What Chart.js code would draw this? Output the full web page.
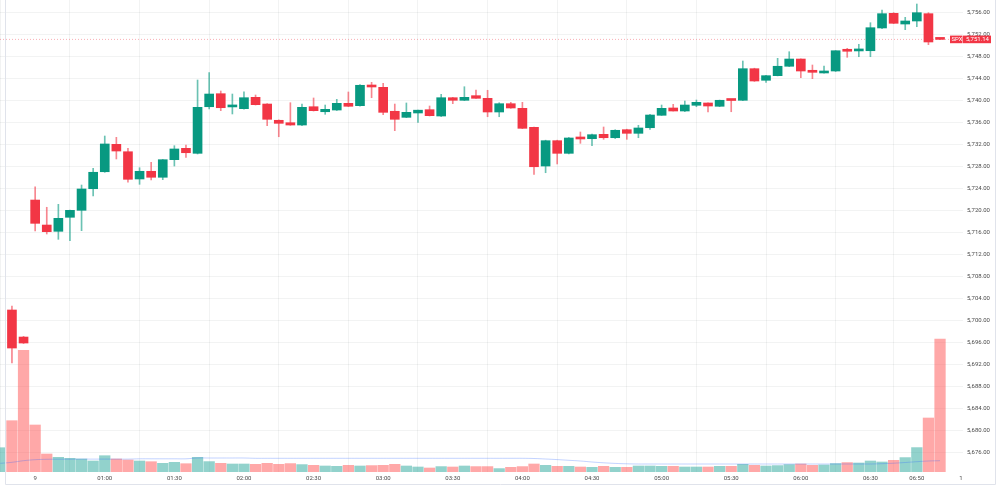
<!DOCTYPE html>
<html>
<head>
<meta charset="utf-8">
<script src="https://cdn.jsdelivr.net/npm/chart.js@4.4.1/dist/chart.umd.min.js"></script>
<style>
  html, body { margin: 0; padding: 0; background: #fff; }
  #chart { display: block; }
</style>
</head>
<body>
<canvas id="chart" width="1000" height="488"></canvas>
<script>
// SPX 5 min bars. first slot is the bar cut off at the left edge (only its volume shows)
var opens  = [null,
  5701.90, 5696.98, 5721.91, 5717.36, 5716.22, 5718.77, 5720.04, 5723.97, 5727.06, 5732.05,
  5730.70, 5725.74, 5727.14, 5726.05, 5729.25, 5731.32, 5730.41, 5738.89, 5741.26, 5738.85,
  5738.53, 5740.60, 5739.38, 5736.42, 5735.98, 5735.56, 5738.89, 5737.98, 5738.29, 5739.51,
  5739.08, 5742.72, 5742.42, 5738.06, 5736.96, 5737.75, 5738.35, 5737.20, 5740.53, 5740.06,
  5740.90, 5740.42, 5737.93, 5739.44, 5738.60, 5735.14, 5728.10, 5732.71, 5730.41, 5733.12,
  5733.07, 5733.87, 5733.25, 5734.71, 5734.05, 5735.07, 5737.33, 5738.66, 5738.11, 5739.15,
  5739.57, 5738.97, 5740.10, 5740.06, 5745.81, 5743.70, 5744.54, 5746.25, 5747.57, 5745.52,
  5745.03, 5745.39, 5749.06, 5749.04, 5749.08, 5753.22, 5755.89, 5753.94, 5754.49, 5755.82,
  5751.30];
var highs  = [null,
  5702.62, 5697.10, 5724.33, 5720.59, 5721.13, 5720.10, 5724.64, 5727.68, 5733.56, 5733.32,
  5731.32, 5727.79, 5728.78, 5729.30, 5731.80, 5731.92, 5743.75, 5745.08, 5741.75, 5741.20,
  5741.62, 5741.02, 5739.45, 5736.50, 5739.62, 5739.38, 5740.48, 5739.20, 5740.24, 5741.57,
  5742.90, 5743.33, 5743.15, 5739.38, 5739.57, 5738.30, 5739.02, 5741.15, 5740.60, 5742.53,
  5741.93, 5741.88, 5739.62, 5739.69, 5739.69, 5735.20, 5732.80, 5732.80, 5733.30, 5734.29,
  5733.90, 5735.20, 5734.70, 5734.80, 5735.51, 5737.50, 5739.20, 5739.33, 5739.93, 5740.11,
  5739.60, 5740.10, 5740.15, 5747.21, 5745.90, 5744.60, 5747.70, 5748.90, 5747.60, 5746.48,
  5746.30, 5749.10, 5749.52, 5750.25, 5754.18, 5756.49, 5756.00, 5755.16, 5757.58, 5756.00,
  5751.35];
var lows   = [null,
  5692.25, 5695.80, 5716.27, 5715.73, 5714.76, 5714.51, 5716.33, 5722.64, 5726.95, 5729.38,
  5725.14, 5724.77, 5725.55, 5725.61, 5728.10, 5729.68, 5730.29, 5738.48, 5738.17, 5737.57,
  5738.45, 5739.20, 5735.44, 5733.43, 5735.50, 5735.44, 5738.10, 5737.51, 5738.20, 5738.90,
  5739.00, 5740.53, 5737.44, 5734.53, 5736.90, 5736.05, 5737.20, 5737.10, 5739.44, 5740.00,
  5740.40, 5737.07, 5737.07, 5738.60, 5734.90, 5726.59, 5726.88, 5728.47, 5730.30, 5732.23,
  5731.80, 5732.96, 5733.10, 5732.96, 5733.25, 5734.78, 5737.30, 5738.10, 5738.00, 5738.89,
  5737.93, 5738.90, 5737.98, 5740.00, 5743.50, 5743.33, 5744.50, 5746.20, 5744.17, 5743.99,
  5745.00, 5745.30, 5747.88, 5747.99, 5747.99, 5753.10, 5754.00, 5752.91, 5753.45, 5750.18,
  5751.10];
var closes = [null,
  5694.98, 5695.89, 5717.67, 5716.15, 5718.58, 5720.04, 5723.92, 5726.96, 5732.11, 5730.83,
  5725.68, 5727.14, 5726.05, 5729.25, 5731.20, 5730.52, 5738.78, 5741.20, 5738.71, 5738.95,
  5740.53, 5739.26, 5736.60, 5735.87, 5735.56, 5738.78, 5738.17, 5738.42, 5739.51, 5738.97,
  5742.79, 5742.48, 5737.87, 5736.60, 5737.87, 5738.26, 5737.26, 5740.53, 5740.06, 5740.60,
  5740.42, 5737.93, 5739.44, 5738.66, 5734.96, 5727.97, 5732.71, 5730.41, 5733.20, 5733.02,
  5733.80, 5733.25, 5734.60, 5734.05, 5735.02, 5737.38, 5738.60, 5738.11, 5739.20, 5739.69,
  5739.02, 5740.06, 5740.02, 5745.81, 5743.57, 5744.54, 5746.25, 5747.57, 5745.39, 5745.15,
  5745.34, 5749.08, 5748.98, 5749.12, 5753.27, 5755.82, 5754.07, 5754.49, 5756.00, 5750.67,
  5751.14];
// volume, in tens of arbitrary units
var volume = [243,
  513, 1217, 470, 180, 147, 137, 130, 110, 163, 130,
  120, 110, 103, 87, 97, 83, 147, 104, 87, 80,
  80, 77, 87, 77, 84, 74, 67, 60, 57, 67,
  60, 64, 67, 77, 60, 50, 40, 54, 50, 60,
  54, 54, 34, 47, 54, 80, 67, 57, 57, 50,
  47, 57, 47, 47, 60, 60, 57, 57, 50, 50,
  50, 57, 57, 77, 67, 60, 64, 74, 80, 67,
  70, 84, 94, 90, 110, 100, 117, 144, 244, 540,
  1330];
var volumeMa = [87,
  97, 113, 123, 127, 128, 128, 129, 129, 129, 129,
  129, 132, 132, 132, 132, 132, 140, 140, 140, 140,
  140, 137, 137, 137, 137, 137, 137, 137, 137, 137,
  137, 137, 137, 137, 137, 137, 137, 137, 137, 137,
  137, 137, 137, 137, 137, 135, 130, 124, 117, 110,
  100, 92, 86, 82, 80, 80, 80, 80, 80, 80,
  80, 80, 80, 80, 80, 80, 80, 80, 80, 80,
  80, 80, 80, 80, 80, 83, 88, 95, 103, 110,
  113];

var priceTicks = [5676, 5680, 5684, 5688, 5692, 5696, 5700, 5704, 5708, 5712, 5716,
  5720, 5724, 5728, 5732, 5736, 5740, 5744, 5748, 5752, 5756];
var timeTickPos  = [2, 8, 14, 20, 26, 32, 38, 44, 50, 56, 62, 68, 74, 78, 81.8];
var timeTickText = ['9', '01:00', '01:30', '02:00', '02:30', '03:00', '03:30', '04:00',
  '04:30', '05:00', '05:30', '06:00', '06:30', '06:50', '1'];
var symbol = 'SPX';

var UP = '#089981', DOWN = '#f23645';
var UP_WICK = 'rgba(8,153,129,0.6)', DOWN_WICK = 'rgba(242,54,69,0.6)';
var UP_VOL = 'rgba(38,166,154,0.5)', DOWN_VOL = 'rgba(255,82,82,0.5)';
var GRID = 'rgba(42,46,57,0.06)';
var FONT = { family: 'Roboto', size: 6 };

var n = closes.length;
var bodies = [], wicks = [], vols = [], volAvg = [];
for (var k = 0; k < n; k++) {
  var x = k - 1;
  var up = opens[k] === null || closes[k] >= opens[k];
  if (opens[k] !== null) {
    bodies.push({ x: x, y: [opens[k], closes[k]], up: up });
    wicks.push({ x: x, y: [lows[k], highs[k]], up: up });
  }
  vols.push({ x: x, y: volume[k], up: up });
  volAvg.push({ x: x, y: volumeMa[k] });
}
var last = closes[n - 1];
var xMin = -1.03, xMax = 81.98;

// no extra room around the axes, the pane runs to the canvas edges
function noPad(s) {
  s.paddingTop = 0; s.paddingBottom = 0; s.paddingLeft = 0; s.paddingRight = 0;
}

var framePlugin = {
  id: 'frame',
  afterDraw: function (chart) {
    var ctx = chart.ctx;
    ctx.save();
    ctx.strokeStyle = '#e0e3eb';
    ctx.lineWidth = 1;
    ctx.beginPath();
    ctx.moveTo(5.5, 0); ctx.lineTo(5.5, 484.5);
    ctx.lineTo(995.5, 484.5); ctx.lineTo(995.5, 0);
    ctx.stroke();

    // last price tag on the price scale
    var y = chart.scales.y.getPixelForValue(last);
    var c = closes[n - 1] >= opens[n - 1] ? UP : DOWN;
    ctx.fillStyle = c;
    ctx.fillRect(950, y - 3.8, 12.5, 7.6);
    ctx.fillRect(963, y - 3.8, 28, 7.6);
    ctx.fillStyle = '#fff';
    ctx.font = '6px Roboto';
    ctx.textBaseline = 'middle';
    ctx.fillText(symbol, 951.5, y + 0.3);
    ctx.fillText(last.toLocaleString('en-US', { minimumFractionDigits: 2 }), 966, y + 0.3);
    ctx.restore();
  }
};

new Chart(document.getElementById('chart'), {
  data: {
    datasets: [
      {
        type: 'bar', label: 'body', data: bodies, order: 0, grouped: false,
        barThickness: 9, minBarLength: 2,
        backgroundColor: function (c) { return c.raw && c.raw.up ? UP : DOWN; }
      },
      {
        type: 'bar', label: 'wick', data: wicks, order: 1, grouped: false,
        barThickness: 1,
        backgroundColor: function (c) { return c.raw && c.raw.up ? UP_WICK : DOWN_WICK; }
      },
      {
        type: 'line', label: 'vol ma', data: volAvg, yAxisID: 'yv', order: 2,
        borderColor: 'rgba(41,98,255,0.28)', borderWidth: 1, pointRadius: 0, tension: 0.4
      },
      {
        type: 'bar', label: 'volume', data: vols, yAxisID: 'yv', order: 3, grouped: false,
        barThickness: 10.6,
        backgroundColor: function (c) { return c.raw && c.raw.up ? UP_VOL : DOWN_VOL; }
      },
      {
        type: 'line', label: 'last', data: [{ x: xMin, y: last }, { x: xMax, y: last }], order: 4,
        borderColor: 'rgba(242,54,69,0.4)', borderWidth: 1, borderDash: [1, 2], pointRadius: 0
      }
    ]
  },
  options: {
    responsive: false,
    animation: false,
    layout: { padding: 0 },
    plugins: { legend: { display: false }, tooltip: { enabled: false } },
    scales: {
      x: {
        type: 'linear', min: xMin, max: xMax, offset: false,
        border: { display: false },
        grid: {
          drawTicks: false,
          color: function (c) { return c.index === timeTickPos.length - 1 ? 'rgba(0,0,0,0)' : GRID; }
        },
        afterBuildTicks: function (s) { s.ticks = timeTickPos.map(function (v) { return { value: v }; }); },
        afterFit: function (s) { s.height = 16; noPad(s); },
        ticks: {
          autoSkip: false, maxRotation: 0, minRotation: 0, padding: 2.5,
          color: '#4a4a4a', font: FONT,
          callback: function (v, i) { return timeTickText[i]; }
        }
      },
      y: {
        position: 'right', min: 5672.42, max: 5758.31,
        border: { display: false },
        grid: { drawTicks: false, color: GRID },
        afterBuildTicks: function (s) { s.ticks = priceTicks.map(function (v) { return { value: v }; }); },
        afterFit: function (s) { s.width = 37; noPad(s); },
        ticks: {
          padding: 4, color: '#4a4a4a', font: FONT,
          callback: function (v) { return v.toLocaleString('en-US', { minimumFractionDigits: 2, maximumFractionDigits: 2 }); }
        }
      },
      yv: { display: false, min: 0, max: 4720 }
    }
  },
  plugins: [framePlugin]
});
</script>
</body>
</html>
